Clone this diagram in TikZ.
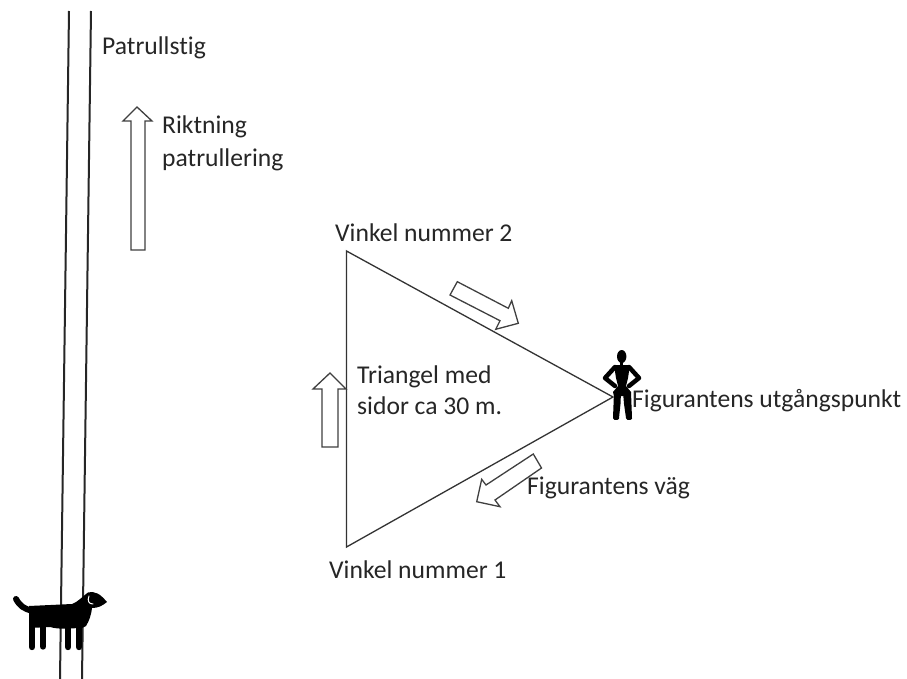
\documentclass[tikz,border=0pt]{standalone}
\usepackage{fontspec}
\setmainfont[Ligatures=NoCommon]{Carlito}
\tikzset{
 lab/.style={anchor=base west,inner sep=0pt,font=\fontsize{25.6}{30}\selectfont,text=black!85,align=left},
 line/.style={draw=black!80,line width=1.3pt},
 road/.style={draw=black!85,line width=2pt},
 harrow/.style={draw=black!75,line width=1.3pt,fill=white,line join=miter},
 sil/.style={fill=black,draw=none},
 limb/.style={draw=black,line cap=round,line join=round}
}
\begin{document}
\begin{tikzpicture}[x=1pt,y=-1pt]
\useasboundingbox (0,0) rectangle (907,679);
\fill[white] (0,0) rectangle (907,679);
% road
\coordinate (r1a) at (69,11); \coordinate (r1b) at (60,679);
\coordinate (r2a) at (91,11); \coordinate (r2b) at (82,679);
\draw[road] (r1a) -- (r1b);
\draw[road] (r2a) -- (r2b);
% triangle
\coordinate (t2) at (346.5,251); \coordinate (t3) at (613,397); \coordinate (t1) at (346.5,547);
\draw[line] (t2) -- (t3) -- (t1) -- cycle;
% arrows
\draw[harrow] (131,250) -- (131,121) -- (123,121) -- (137,107) -- (152,121) -- (145,121) -- (145,250) -- cycle;
\draw[harrow] (322,447) -- (322,389) -- (313,389) -- (330,373) -- (346,389) -- (338,389) -- (338,447) -- cycle;
\draw[harrow] (457.3,281.7) -- (450,295) -- (500,320.7) -- (495.7,329.3) -- (518.3,323.3) -- (511.7,300.7) -- (508.3,308.3) -- cycle;
\draw[harrow] (533.3,454) -- (541.5,468) -- (495,500) -- (500,506.7) -- (476.7,501.7) -- (481.7,479.3) -- (486,485) -- cycle;
% labels
\node[lab] (patrull) at (102,55) {Patrullstig};
\node[lab] (riktning) at (162,134) {Riktning};
\node[lab] (riktning2) at (162,167) {patrullering};
\node[lab] (v2) at (335,241) {Vinkel nummer 2};
\node[lab] (v1) at (329,578) {Vinkel nummer 1};
\node[lab] (tri) at (357,383.5) {Triangel med};
\node[lab] (tri2) at (357,414) {sidor ca 30 m.};
\node[lab] (fig) at (632,407) {Figurantens utgångspunkt};
\node[lab] (vag) at (527,494) {Figurantens väg};
% figure
\fill[sil] (621.7,356.5) ellipse (4.7 and 6.5);
\draw[limb,line width=3pt] (621.7,362) -- (621.7,366);
\fill[sil] (614,365) -- (630,365) -- (628,378) -- (626,386) -- (631,392) -- (630,396) -- (614,396) -- (613,392) -- (618,386) -- (616,378) -- cycle;
\draw[limb,line width=4.5pt] (615,367) -- (605,378) -- (615,386);
\draw[limb,line width=4.5pt] (629,367) -- (639,378) -- (629,386);
\fill[sil] (614,392) -- (621,392) -- (620.5,404) -- (619,418) -- (613,418) -- cycle;
\fill[sil] (623,392) -- (631,392) -- (632,418) -- (626,418) -- (624,404) -- cycle;
\draw[limb,line width=3pt] (614.5,418.5) -- (617.5,418.5);
\draw[limb,line width=3pt] (627.5,418.5) -- (630.5,418.5);
% dog
\draw[limb,line width=6pt] (16,599) .. controls (20,606) and (24,609) .. (33,611);
\fill[sil] (29,606) -- (72,604) .. controls (78,602) and (83,596) .. (88,592.5) .. controls (96,591) and (100,594) .. (107,602) .. controls (102,606) and (98,608) .. (92,608) .. controls (91,616) and (89,621) .. (86,626) -- (82,628) .. controls (72,628) and (60,630) .. (50,627) -- (29,628) -- cycle;
\foreach \x/\b in {32/647, 43/646.5, 68/647, 79/647}{
 \draw[limb,line width=6.4pt] (\x,622) -- (\x,\b);
}
\draw[white,line width=1pt,line cap=round] (89,596) .. controls (87,601) and (89,604) .. (93,604);
\end{tikzpicture}
\end{document}
